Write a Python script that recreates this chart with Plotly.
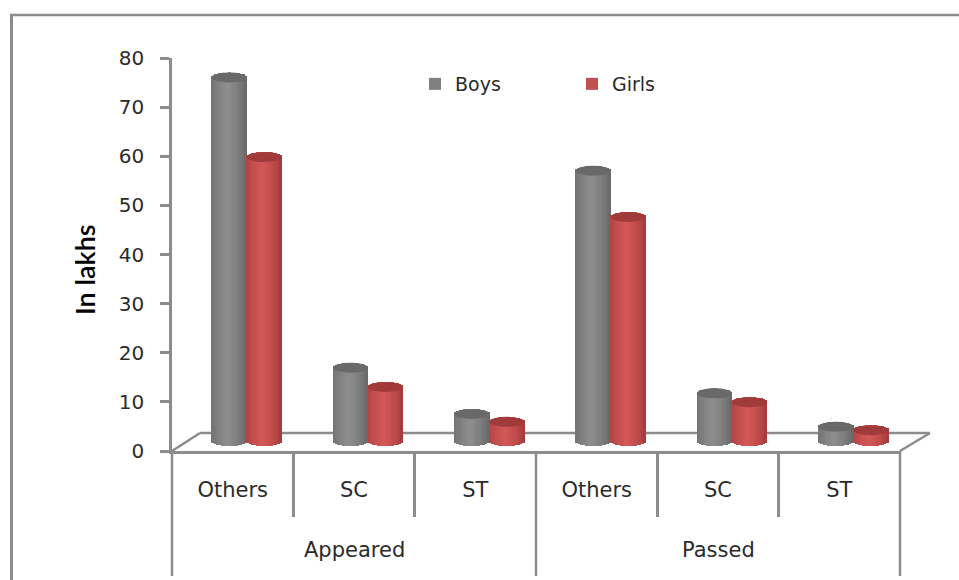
import math
import plotly.graph_objects as go

groups = ["Appeared", "Passed"]
categories = ["Others", "SC", "ST", "Others", "SC", "ST"]
boys = [74.0, 14.9, 5.5, 55.0, 9.7, 2.9]
girls = [57.8, 11.0, 3.9, 45.6, 7.9, 2.2]
y_ticks = [0, 10, 20, 30, 40, 50, 60, 70, 80]

W, H = 959, 580
L, R, T, B = 172, 900, 58, 451
px_x = (R - L) / 6.0
px_y = (B - T) / 80.0

FLOOR = 10 / px_y          # bar foot sits above the axis line (3-D floor)
BAR = 35 / px_x            # cylinder width in category units
SHIFT = 14 / px_x          # shift of the cluster from depth
CAP = 10 / px_y            # ellipse height in value units
N = 15                     # vertical shading strips per cylinder

AXIS = "#8c8c8c"
TEXT = "#2b2b2b"


def mix(c1, c2, t):
    return "rgb(%d,%d,%d)" % tuple(round(a + (b - a) * t) for a, b in zip(c1, c2))


series = [
    ("Boys", boys, -1, (98, 98, 98), (142, 142, 142), "#696969", "#808080"),
    ("Girls", girls, 0, (158, 54, 54), (212, 88, 88), "#a13a3a", "#c0504d"),
]

fig = go.Figure()
shapes = []

for name, vals, side, dark, light, cap, swatch in series:
    left_edge = side * BAR + SHIFT
    for k in range(N):
        u = (k + 0.5) / N * 2 - 1
        arc = math.sqrt(max(0.0, 1 - u * u)) * CAP / 2
        t = max(0.0, 1 - abs(u + 0.1) / 1.1) ** 0.6
        xs = [i + left_edge + (k + 0.5) / N * BAR for i in range(6)]
        fig.add_trace(go.Bar(
            x=xs,
            y=[v + arc * 2 for v in vals],
            base=[FLOOR - arc] * 6,
            width=BAR / N * 1.15,
            marker=dict(color=mix(dark, light, t), line=dict(width=0)),
            showlegend=False,
            hoverinfo="skip",
        ))
    for i, v in enumerate(vals):
        shapes.append(dict(
            type="circle", xref="x", yref="y", layer="above",
            x0=i + left_edge, x1=i + left_edge + BAR,
            y0=FLOOR + v - CAP / 2, y1=FLOOR + v + CAP / 2,
            fillcolor=cap, line=dict(width=0),
        ))
    fig.add_trace(go.Bar(
        x=[None], y=[None], name=name,
        marker=dict(color=swatch, line=dict(width=0)),
        hoverinfo="skip",
    ))

fx = lambda p: (p - L) / (R - L)
fy = lambda p: (B - p) / (B - T)
for x0, y0, x1, y1, w in [
    (11.5, 15, 11.5, 580, 3), (10, 15, 959, 15, 2.5),
    (172, 451, 200, 433, 2.5), (200, 433, 930, 433, 2.5), (930, 433, 900, 451, 2.5),
    (172, 451, 172, 576, 2.5), (536, 451, 536, 576, 2.5), (900, 451, 900, 576, 2.5),
]:
    shapes.append(dict(
        type="line", xref="paper", yref="paper", layer="below",
        x0=fx(x0), x1=fx(x1), y0=fy(y0), y1=fy(y1),
        line=dict(color=AXIS, width=w),
    ))

annotations = [
    dict(text=groups[0], x=1, xref="x", y=fy(550), yref="paper", showarrow=False,
         yanchor="middle", font=dict(family="DejaVu Sans", size=21, color=TEXT)),
    dict(text=groups[1], x=4, xref="x", y=fy(550), yref="paper", showarrow=False,
         yanchor="middle", font=dict(family="DejaVu Sans", size=21, color=TEXT)),
    dict(text="In lakhs", x=fx(84), xref="paper", y=fy(270), yref="paper", showarrow=False,
         textangle=-90, xanchor="center", yanchor="middle",
         font=dict(family="Lato", size=27, weight=600, color="#000000")),
]

fig.update_layout(
    width=W, height=H,
    margin=dict(l=L, r=W - R, t=T, b=H - B),
    autosize=False,
    barmode="overlay",
    bargap=0,
    plot_bgcolor="white",
    paper_bgcolor="white",
    shapes=shapes,
    annotations=annotations,
    showlegend=True,
    legend=dict(
        orientation="h",
        x=fx(415), xanchor="left",
        y=fy(84), yanchor="middle",
        entrywidth=112, entrywidthmode="pixels",
        itemwidth=30,
        itemclick=False, itemdoubleclick=False,
        traceorder="normal",
        font=dict(family="DejaVu Sans", size=19, color=TEXT),
        bgcolor="rgba(0,0,0,0)",
    ),
    xaxis=dict(
        range=[-0.5, 5.5],
        tickmode="array",
        tickvals=list(range(6)),
        ticktext=categories,
        ticks="",
        ticklabelstandoff=18,
        tickfont=dict(family="DejaVu Sans", size=21, color=TEXT),
        showgrid=False,
        zeroline=False,
        showline=True, linecolor=AXIS, linewidth=2.5,
        minor=dict(
            tickmode="array",
            tickvals=[0.5, 1.5, 3.5, 4.5],
            ticks="outside", ticklen=63, tickwidth=2.5, tickcolor=AXIS,
            showgrid=False,
        ),
    ),
    yaxis=dict(
        range=[0, 80],
        tickmode="array",
        tickvals=y_ticks,
        ticks="outside", ticklen=9, tickwidth=2.5, tickcolor=AXIS,
        ticklabelstandoff=12,
        tickfont=dict(family="DejaVu Sans", size=20, color=TEXT),
        showgrid=False,
        zeroline=False,
        showline=True, linecolor=AXIS, linewidth=2.5,
    ),
)

fig.write_html(
    "out.html",
    config={"displayModeBar": False},
    post_script="document.body.style.margin='0';document.body.style.overflow='hidden';",
)
